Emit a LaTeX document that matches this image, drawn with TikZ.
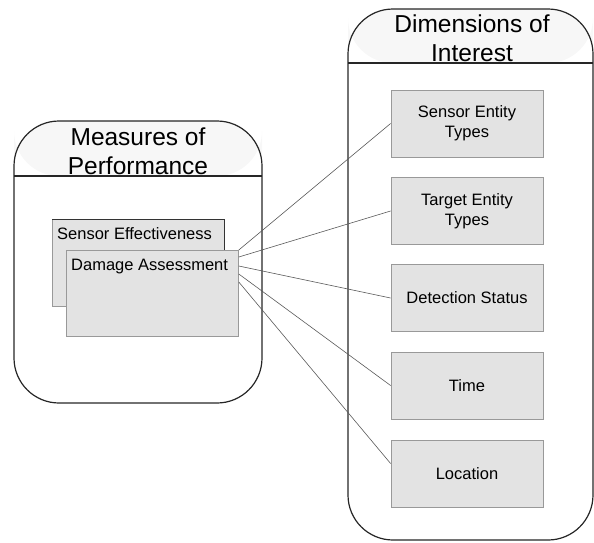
\documentclass[tikz,border=0pt]{standalone}
\usepackage{fontspec}
\setmainfont{Liberation Sans}
\tikzset{
  panel/.style={draw=black!85, line width=1.2pt, rounded corners=45pt},
  paneltop/.style={fill=black!3, rounded corners=45pt},
  title/.style={anchor=base, font=\fontsize{24.5}{29}\selectfont},
  dimbox/.style={draw=black!40, line width=0.8pt, fill=black!11, minimum width=152pt,
    minimum height=67pt, align=center, font=\fontsize{16.5}{20}\selectfont},
  mopbox/.style={draw=black!40, line width=0.8pt, fill=black!11, minimum width=172pt,
    minimum height=86pt, anchor=north west},
  boxtext/.style={anchor=base west, inner sep=0pt, font=\fontsize{16.5}{20}\selectfont},
  link/.style={draw=black!65, line width=0.6pt}
}
\begin{document}
\begin{tikzpicture}[x=1pt,y=-1pt]
    \useasboundingbox (0,0) rectangle (594,542);
    % measures of performance
    \fill[paneltop] (14,176) -- (14,121) -- (262,121) -- (262,176) -- cycle;
    \draw[panel] (14,121) rectangle (262,403);
    \draw[line width=1.2pt, black!85] (14,176) -- (262,176);
    \node[title] (mop1) at (138,145) {Measures of};
    \node[title] (mop2) at (138,174) {Performance};
    % dimensions of interest
    \fill[paneltop] (348,63) -- (348,9) -- (593,9) -- (593,63) -- cycle;
    \draw[panel] (348,9) rectangle (593,540);
    \draw[line width=1.2pt, black!85] (348,63) -- (593,63);
    \node[title] (doi1) at (472,32) {Dimensions of};
    \node[title] (doi2) at (472,61) {Interest};
    % measures
    \node[mopbox, minimum height=87pt] (effect) at (52,219) {};
    \draw[black!80, line width=0.9pt] (effect.north west) -- (effect.north east) -- (effect.south east);
    \node[boxtext] (effecttext) at (57,239) {Sensor Effectiveness};
    \node[mopbox] (damage) at (66,250) {};
    \node[boxtext] (damagetext) at (71,270) {Damage Assessment};
    % dimensions
    \node[dimbox] (sensortypes) at (467,123.5) {Sensor Entity\\Types};
    \node[dimbox] (targettypes) at (467,211) {Target Entity\\Types};
    \node[dimbox] (detection) at (467,298) {Detection Status};
    \node[dimbox] (time) at (467,385.5) {Time};
    \node[dimbox] (location) at (467,473.5) {Location};
    % links
    \draw[link] (damage.north east) -- (sensortypes.west);
    \draw[link] ([yshift=-7pt]damage.north east) -- (targettypes.west);
    \draw[link] ([yshift=-16pt]damage.north east) -- (detection.west);
    \draw[link] ([yshift=-24pt]damage.north east) -- (time.west);
    \draw[link] ([yshift=-32pt]damage.north east) -- ([yshift=10pt]location.west);
\end{tikzpicture}
\end{document}
